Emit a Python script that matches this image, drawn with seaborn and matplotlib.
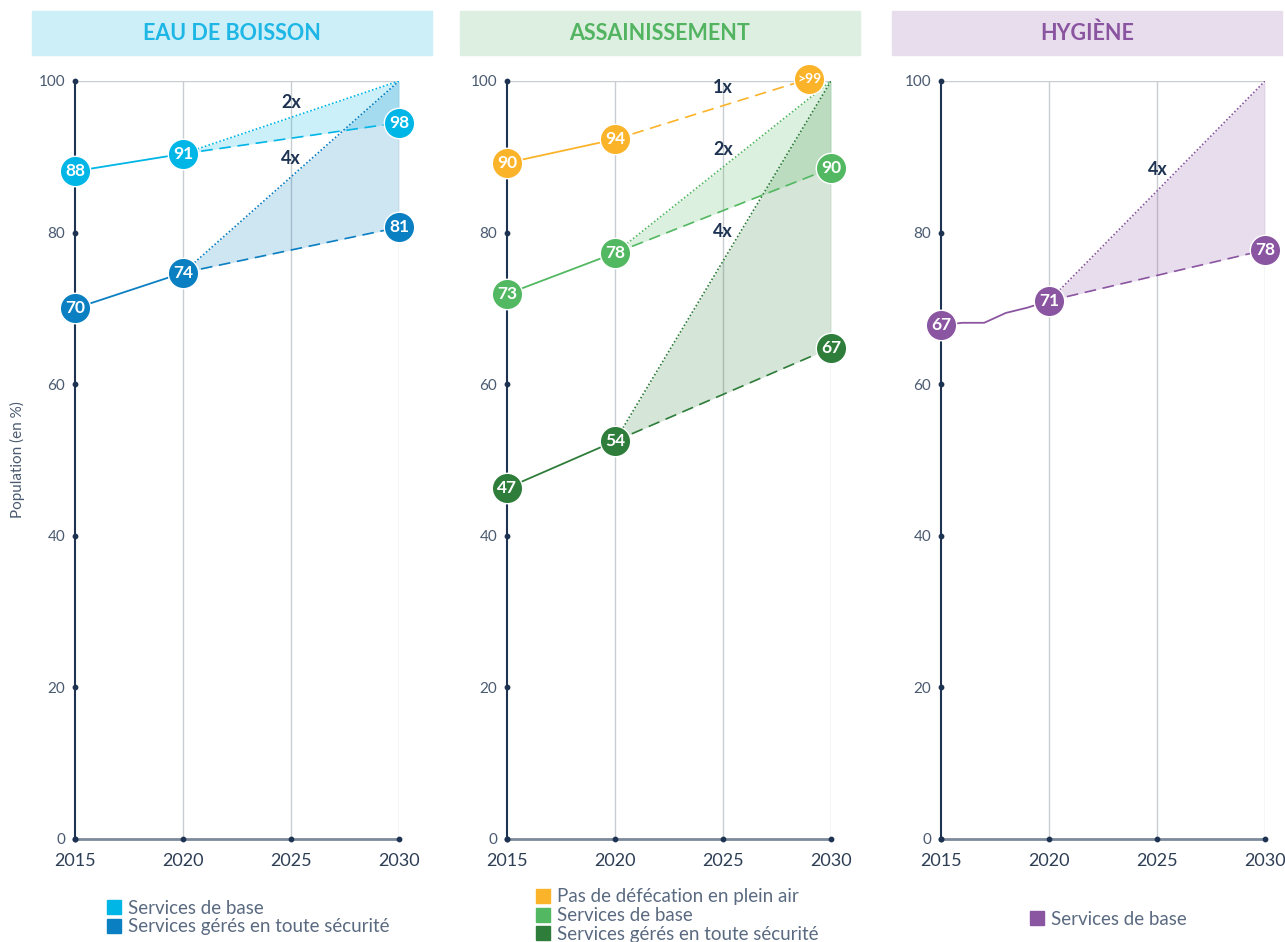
import pandas as pd
import numpy as np
import matplotlib.pyplot as plt
import seaborn as sns
from matplotlib.patches import Rectangle
from matplotlib.lines import Line2D

sns.set_style("white")
plt.rcParams["font.family"] = ["Lato", "DejaVu Sans"]

# ---------- data ----------
years_3 = [2015, 2020, 2030]
target = 100

# Eau de boisson
eau_base = [88.1, 90.4, 94.5]
eau_base_lbl = ["88", "91", "98"]
eau_sure = [70.0, 74.7, 80.7]
eau_sure_lbl = ["70", "74", "81"]

# Assainissement
odf_years = [2015, 2020, 2029]
odf = [89.2, 92.3, 100.3]
odf_lbl = ["90", "94", ">99"]
ass_base = [71.9, 77.3, 88.5]
ass_base_lbl = ["73", "78", "90"]
ass_sure = [46.3, 52.5, 64.8]
ass_sure_lbl = ["47", "54", "67"]

# Hygiène
hyg_years = [2015, 2016, 2017, 2018, 2019, 2020]
hyg_hist = [67.8, 68.1, 68.1, 69.4, 70.1, 71.0]
hyg_2030 = 77.7
hyg_lbl = ["67", "71", "78"]

x_ticks = [2015, 2020, 2025, 2030]
y_ticks = [0, 20, 40, 60, 80, 100]

titles = ["EAU DE BOISSON", "ASSAINISSEMENT", "HYGIÈNE"]

# colours
CYAN, BLUE = "#00B6E6", "#0A7FC1"
YELLOW, GREEN, DGREEN = "#FBB42A", "#53B862", "#2E7D3A"
PURPLE = "#8B56A1"
NAVY = "#1E3352"
GRID = "#C9CDD1"

fig = plt.figure(figsize=(12.85, 9.42), dpi=100)
lefts = [75 / 1285, 507 / 1285, 941 / 1285]
ax_w = 324 / 1285
ax_b = 1 - 839 / 942
ax_h = 758 / 942
axes = [fig.add_axes([l, ax_b, ax_w, ax_h]) for l in lefts]

# header boxes
headers = [(32, 432, "#CCEFF8", "#1DB6E5"),
           (460, 860, "#DDEFE1", "#52B461"),
           (892, 1282, "#E8DDEC", "#8A55A0")]
for (x0, x1, bg, fg), t in zip(headers, titles):
    fig.patches.append(Rectangle((x0 / 1285, 1 - 55 / 942), (x1 - x0) / 1285, 44 / 942,
                                 transform=fig.transFigure, color=bg, zorder=0))
    fig.text((x0 + x1) / 2 / 1285, 1 - 33 / 942, t, ha="center", va="center",
             fontsize=15.5, fontweight="bold", color=fg)


def base_axes(ax):
    ax.set_xlim(2015, 2030)
    ax.set_ylim(0, 100)
    for s in ["top", "right"]:
        ax.spines[s].set_visible(False)
    ax.spines["left"].set_color(NAVY)
    ax.spines["left"].set_linewidth(1.5)
    ax.spines["bottom"].set_color("#7C8A9C")
    ax.spines["bottom"].set_linewidth(2)
    for yr in [2020, 2025, 2030]:
        ax.axvline(yr, color=GRID, lw=1, zorder=0)
    ax.axhline(100, color=GRID, lw=1, zorder=0)
    ax.set_xticks(x_ticks)
    ax.set_yticks(y_ticks)
    ax.tick_params(axis="x", length=0, pad=10, labelsize=13, labelcolor="#2D3E55")
    ax.tick_params(axis="y", length=0, pad=7, labelsize=11, labelcolor="#4A5A70")
    ax.scatter([2015] * len(y_ticks), y_ticks, s=10, color=NAVY, zorder=5, clip_on=False)
    ax.scatter(x_ticks, [0] * len(x_ticks), s=10, color=NAVY, zorder=5, clip_on=False)


def history(ax, xs, ys, color):
    df = pd.DataFrame({"year": xs, "value": ys})
    sns.lineplot(data=df, x="year", y="value", color=color, lw=1.3, ax=ax, zorder=3)


def bubbles(ax, xs, ys, labels, color):
    df = pd.DataFrame({"year": xs, "value": ys})
    sns.scatterplot(data=df, x="year", y="value", color=color, s=480, edgecolor="white",
                    linewidth=1, ax=ax, zorder=6, clip_on=False)
    for x, y, t in zip(xs, ys, labels):
        ax.text(x, y, t, ha="center", va="center", color="white", fontweight="bold",
                fontsize=10 if len(t) > 2 else 12.5, zorder=7)


def projection(ax, start, end_trend, color, fill_alpha=0.2):
    ax.plot([2020, 2030], [start, end_trend], ls=(0, (7, 4)), color=color, lw=1.2, zorder=3)
    ax.plot([2020, 2030], [start, target], ls=(0, (1, 1.3)), color=color, lw=1.2, zorder=3)
    ax.fill_between([2020, 2030], [start, end_trend], [start, target], color=color,
                    alpha=fill_alpha, lw=0, zorder=1)


def mult(ax, x, y, t):
    ax.text(x, y, t, ha="center", va="center", fontsize=13, fontweight="bold", color=NAVY, zorder=4)


# ---------- panel 1 : eau de boisson ----------
ax = axes[0]
base_axes(ax)
projection(ax, eau_sure[1], eau_sure[2], BLUE)
projection(ax, eau_base[1], eau_base[2], CYAN)
history(ax, years_3[:2], eau_base[:2], CYAN)
history(ax, years_3[:2], eau_sure[:2], BLUE)
bubbles(ax, years_3, eau_base, eau_base_lbl, CYAN)
bubbles(ax, years_3, eau_sure, eau_sure_lbl, BLUE)
mult(ax, 2025.0, 97.1, "2x")
mult(ax, 2025.0, 89.8, "4x")

# ---------- panel 2 : assainissement ----------
ax = axes[1]
base_axes(ax)
projection(ax, ass_sure[1], ass_sure[2], DGREEN)
projection(ax, ass_base[1], ass_base[2], GREEN)
ax.plot(odf_years[1:], odf[1:], ls=(0, (7, 4)), color=YELLOW, lw=1.2, zorder=3)
history(ax, odf_years[:2], odf[:2], YELLOW)
history(ax, years_3[:2], ass_base[:2], GREEN)
history(ax, years_3[:2], ass_sure[:2], DGREEN)
bubbles(ax, odf_years, odf, odf_lbl, YELLOW)
bubbles(ax, years_3, ass_base, ass_base_lbl, GREEN)
bubbles(ax, years_3, ass_sure, ass_sure_lbl, DGREEN)
mult(ax, 2025.0, 99.1, "1x")
mult(ax, 2025.0, 91.0, "2x")
mult(ax, 2025.0, 80.2, "4x")

# ---------- panel 3 : hygiène ----------
ax = axes[2]
base_axes(ax)
projection(ax, hyg_hist[-1], hyg_2030, PURPLE)
history(ax, hyg_years, hyg_hist, PURPLE)
bubbles(ax, [2015, 2020, 2030], [hyg_hist[0], hyg_hist[-1], hyg_2030], hyg_lbl, PURPLE)
mult(ax, 2025.05, 88.3, "4x")

# seaborn puts its own column names on the axes -> clear them
for ax in axes:
    ax.set_xlabel("")
    ax.set_ylabel("")
axes[0].set_ylabel("Population (en %)", fontsize=11, color="#4A5A70")
axes[0].yaxis.set_label_coords(-0.155, 0.5)


# ---------- legends ----------
def square(c):
    return Line2D([], [], marker="s", ls="", markersize=10, color=c)


leg_kw = dict(frameon=False, fontsize=13.5, labelcolor="#5A6A80", handletextpad=0.35,
              labelspacing=0.1, borderaxespad=0, handlelength=0.8)
axes[0].legend([square(CYAN), square(BLUE)],
               ["Services de base", "Services gérés en toute sécurité"],
               loc="upper left", bbox_to_anchor=(0.075, -0.07), **leg_kw)
axes[1].legend([square(YELLOW), square(GREEN), square(DGREEN)],
               ["Pas de défécation en plein air", "Services de base",
                "Services gérés en toute sécurité"],
               loc="upper left", bbox_to_anchor=(0.065, -0.055), **leg_kw)
axes[2].legend([square(PURPLE)], ["Services de base"],
               loc="upper left", bbox_to_anchor=(0.25, -0.085), **leg_kw)

fig.savefig("out.png", dpi=100)
